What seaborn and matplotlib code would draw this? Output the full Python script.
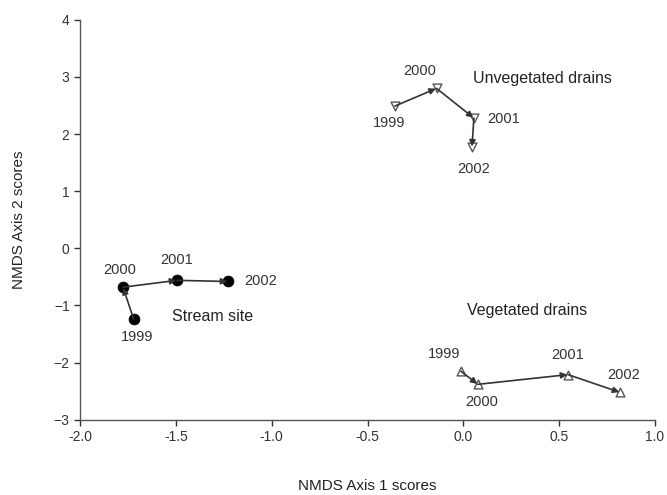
import matplotlib
matplotlib.use("Agg")
import matplotlib.pyplot as plt
import seaborn as sns
import pandas as pd

years = ["1999", "2000", "2001", "2002"]
stream_x = [-1.72, -1.776, -1.494, -1.228]
stream_y = [-1.24, -0.68, -0.56, -0.58]
unveg_x = [-0.357, -0.14, 0.055, 0.045]
unveg_y = [2.49, 2.80, 2.28, 1.77]
veg_x = [-0.013, 0.076, 0.546, 0.817]
veg_y = [-2.15, -2.38, -2.21, -2.52]

groups = ["Stream site", "Unvegetated drains", "Vegetated drains"]

rows = []
for g, xs, ys in [(groups[0], stream_x, stream_y), (groups[1], unveg_x, unveg_y), (groups[2], veg_x, veg_y)]:
    for yr, x, y in zip(years, xs, ys):
        rows.append({"group": g, "year": yr, "x": x, "y": y})
df = pd.DataFrame(rows)

sns.set_theme(style="ticks")
plt.rcParams['font.family'] = ['Liberation Sans', 'DejaVu Sans']

fig = plt.figure(figsize=(6.67, 4.95), dpi=100)
ax = fig.add_axes([0.12, 0.152, 0.862, 0.808])

line_col = "#333333"
sns.scatterplot(data=df[df.group == groups[0]], x="x", y="y", ax=ax, marker="o", s=60,
                color="black", edgecolor="black", zorder=2, legend=False)
sns.scatterplot(data=df[df.group == groups[1]], x="x", y="y", ax=ax, marker="v", s=40,
                facecolor="white", edgecolor="#555555", linewidth=1.0, zorder=2, legend=False)
sns.scatterplot(data=df[df.group == groups[2]], x="x", y="y", ax=ax, marker="^", s=40,
                facecolor="white", edgecolor="#555555", linewidth=1.0, zorder=2, legend=False)

# arrows
for g in groups:
    sub = df[df.group == g].reset_index(drop=True)
    for i in range(len(sub) - 1):
        ax.annotate("", xy=(sub.x[i + 1], sub.y[i + 1]), xytext=(sub.x[i], sub.y[i]),
                    arrowprops=dict(arrowstyle="-|>", color=line_col, lw=1.2,
                                    shrinkA=0, shrinkB=0.5, mutation_scale=9), zorder=3)

# label offsets in pixels (dx, dy)
offsets = {
    groups[0]: [(3, -18), (-3, 17), (0, 20), (33, 0)],
    groups[1]: [(-6, -17), (-17, 17), (30, -1), (2, -22)],
    groups[2]: [(-17, 17), (4, -18), (0, 20), (4, 17)],
}
fs = 10.5
for g in groups:
    sub = df[df.group == g].reset_index(drop=True)
    for i in range(len(sub)):
        dx, dy = offsets[g][i]
        ax.annotate(sub.year[i], (sub.x[i], sub.y[i]), xytext=(dx * 0.72, dy * 0.72),
                    textcoords="offset points", ha="center", va="center",
                    fontsize=fs, color="#333333")

ax.text(-1.52, -1.20, "Stream site", fontsize=11.5, color="#222222", ha="left", va="center")
ax.text(0.05, 2.97, "Unvegetated drains", fontsize=11.5, color="#222222", ha="left", va="center")
ax.text(0.02, -1.08, "Vegetated drains", fontsize=11.5, color="#222222", ha="left", va="center")

ax.set_xlim(-2.0, 1.0)
ax.set_ylim(-3, 4)
ax.set_xticks([-2.0, -1.5, -1.0, -0.5, 0.0, 0.5, 1.0])
ax.set_xticklabels(["-2.0", "-1.5", "-1.0", "-0.5", "0.0", "0.5", "1.0"])
ax.set_yticks(range(-3, 5))
ax.tick_params(labelsize=10, colors="#333333", length=4, width=1)
for s in ["left", "bottom"]:
    ax.spines[s].set_color("#555555")
    ax.spines[s].set_linewidth(1.0)
sns.despine(ax=ax)
ax.set_xlabel("NMDS Axis 1 scores", fontsize=11, color="#222222", labelpad=25)
ax.set_ylabel("NMDS Axis 2 scores", fontsize=11, color="#222222", labelpad=20)

fig.savefig("out.png", dpi=100)
